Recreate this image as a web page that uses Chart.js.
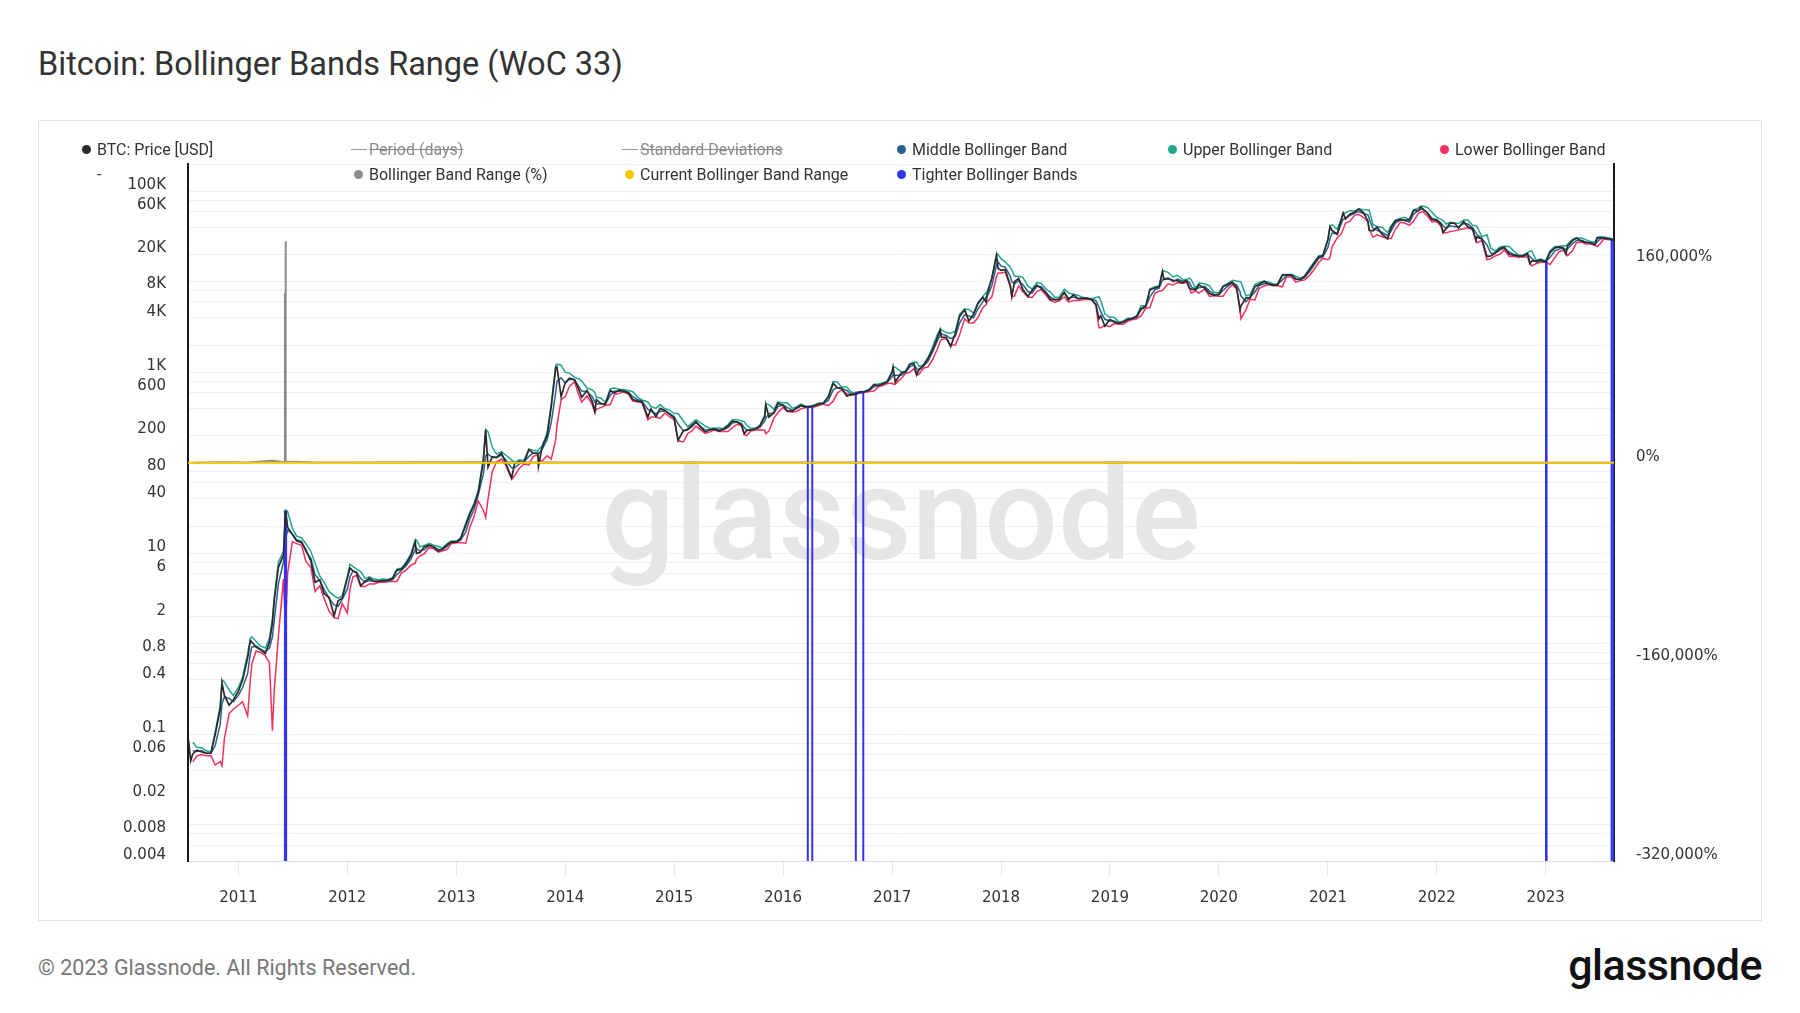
<!DOCTYPE html>
<html>
<head>
<meta charset="utf-8">
<title>Bitcoin: Bollinger Bands Range (WoC 33)</title>
<script src="https://cdn.jsdelivr.net/npm/chart.js@4.4.1/dist/chart.umd.min.js"></script>
<style>
  html, body { margin: 0; padding: 0; background: #fff; }
  body { position: relative; width: 1800px; height: 1013px; overflow: hidden; font-family: Roboto, 'Noto Sans', sans-serif; }
  #title { position: absolute; left: 38px; top: 48px; font-size: 32.5px; line-height: 33px; color: #333; white-space: nowrap; }
  #box { position: absolute; left: 38px; top: 120px; width: 1724px; height: 801px; border: 1px solid #e4e4e4; box-sizing: border-box; }
  #legend .item { position: absolute; height: 18px; display: flex; align-items: center; font-size: 16px; color: #333; white-space: nowrap; }
  #legend .sym { width: 16px; height: 18px; position: relative; margin-right: 2px; flex: none; }
  #legend .dot { position: absolute; left: 2.5px; top: 4.5px; width: 9px; height: 9px; border-radius: 50%; }
  #legend .dash { position: absolute; left: 0; top: 9px; width: 16px; height: 1px; background: #999; }
  #legend .off { color: #8a8a8a; text-decoration: line-through; }
  #footer { position: absolute; left: 38px; top: 957px; font-size: 21.5px; line-height: 22px; color: #777; white-space: nowrap; }
  #logo { position: absolute; right: 38px; top: 944px; font-size: 43px; line-height: 43px; font-weight: 500; color: #111; letter-spacing: -0.5px; }
</style>
</head>
<body>
<div id="title">Bitcoin: Bollinger Bands Range (WoC 33)</div>
<div id="box"><canvas id="chart"></canvas></div>
<div id="legend"></div>
<div id="footer">© 2023 Glassnode. All Rights Reserved.</div>
<div id="logo">glassnode</div>
<script>
// axis range and ticks
const xStart = '2010-07-16'
const xEnd = '2023-08-18'
const yearTicks = [2011, 2012, 2013, 2014, 2015, 2016, 2017, 2018, 2019, 2020, 2021, 2022, 2023]
const priceMin = 0.004
const priceMax = 200000
const priceGridTicks = [0.004, 0.006, 0.008, 0.01, 0.02, 0.04, 0.06, 0.08, 0.1, 0.2, 0.4, 0.6, 0.8,
  1, 2, 4, 6, 8, 10, 20, 40, 60, 80, 100, 200, 400, 600, 800, 1000, 2000, 4000, 6000, 8000,
  10000, 20000, 40000, 60000, 80000, 100000, 200000]
const priceTickLabels = [100000, 60000, 20000, 8000, 4000, 1000, 600, 200, 80, 40, 10, 6, 2,
  0.8, 0.4, 0.1, 0.06, 0.02, 0.008, 0.004]
const rangeMin = -320000
const rangeMax = 240000
const rangeTicks = [-320000, -160000, 0, 160000]

// BTC price and Bollinger bands (one line per year)
const dates = [
  '2010-07-18','2010-07-25','2010-08-01','2010-08-15','2010-09-01','2010-09-15','2010-10-01','2010-10-15','2010-11-01','2010-11-07','2010-11-15','2010-12-01','2010-12-15',
  '2011-01-01','2011-01-15','2011-02-01','2011-02-10','2011-02-15','2011-03-01','2011-03-15','2011-04-01','2011-04-15','2011-04-25','2011-05-01','2011-05-15','2011-06-01','2011-06-08','2011-06-15','2011-07-01','2011-07-15','2011-08-01','2011-08-15','2011-09-01','2011-09-15','2011-10-01','2011-10-15','2011-11-01','2011-11-18','2011-12-01','2011-12-15',
  '2012-01-01','2012-01-10','2012-01-20','2012-02-01','2012-02-15','2012-03-01','2012-03-15','2012-04-01','2012-04-15','2012-05-01','2012-05-15','2012-06-01','2012-06-15','2012-07-01','2012-07-15','2012-08-01','2012-08-16','2012-08-20','2012-09-01','2012-09-15','2012-10-01','2012-10-15','2012-11-01','2012-11-15','2012-12-01','2012-12-15',
  '2013-01-01','2013-01-15','2013-02-01','2013-02-15','2013-03-01','2013-03-15','2013-04-01','2013-04-09','2013-04-17','2013-05-01','2013-05-15','2013-06-01','2013-06-15','2013-07-05','2013-07-15','2013-08-01','2013-08-15','2013-09-01','2013-09-15','2013-10-01','2013-10-03','2013-10-15','2013-11-01','2013-11-15','2013-11-30','2013-12-04','2013-12-18',
  '2014-01-01','2014-01-15','2014-02-01','2014-02-15','2014-02-25','2014-03-15','2014-04-01','2014-04-10','2014-04-15','2014-05-01','2014-05-15','2014-06-01','2014-06-15','2014-07-01','2014-07-15','2014-08-01','2014-08-15','2014-09-01','2014-09-15','2014-10-05','2014-10-15','2014-11-01','2014-11-15','2014-12-01','2014-12-15',
  '2015-01-01','2015-01-14','2015-02-01','2015-02-15','2015-03-01','2015-03-15','2015-04-01','2015-04-15','2015-05-01','2015-05-15','2015-06-01','2015-06-15','2015-07-01','2015-07-15','2015-08-01','2015-08-15','2015-08-24','2015-09-01','2015-09-15','2015-10-01','2015-10-15','2015-11-01','2015-11-04','2015-11-15','2015-12-01','2015-12-15',
  '2016-01-01','2016-01-15','2016-02-01','2016-02-15','2016-03-01','2016-03-15','2016-04-01','2016-04-15','2016-05-01','2016-05-15','2016-06-01','2016-06-17','2016-07-01','2016-07-15','2016-08-02','2016-08-15','2016-09-01','2016-09-15','2016-10-01','2016-10-15','2016-11-01','2016-11-15','2016-12-01','2016-12-15',
  '2017-01-01','2017-01-04','2017-01-11','2017-02-01','2017-02-15','2017-03-01','2017-03-15','2017-03-24','2017-04-01','2017-04-15','2017-05-01','2017-05-15','2017-06-01','2017-06-11','2017-06-15','2017-07-01','2017-07-16','2017-08-01','2017-08-15','2017-09-01','2017-09-15','2017-10-01','2017-10-15','2017-11-01','2017-11-12','2017-11-15','2017-12-01','2017-12-17','2017-12-22',
  '2018-01-01','2018-01-15','2018-02-01','2018-02-06','2018-02-15','2018-03-01','2018-03-15','2018-04-01','2018-04-15','2018-05-01','2018-05-15','2018-06-01','2018-06-15','2018-07-01','2018-07-15','2018-08-01','2018-08-15','2018-09-01','2018-09-15','2018-10-01','2018-10-15','2018-11-01','2018-11-15','2018-11-25','2018-12-01','2018-12-15',
  '2019-01-01','2019-01-15','2019-02-01','2019-02-15','2019-03-01','2019-03-15','2019-04-01','2019-04-15','2019-05-01','2019-05-15','2019-06-01','2019-06-15','2019-06-26','2019-07-01','2019-07-15','2019-08-01','2019-08-15','2019-09-01','2019-09-15','2019-09-25','2019-10-01','2019-10-15','2019-10-26','2019-11-15','2019-12-01','2019-12-15',
  '2020-01-01','2020-01-15','2020-02-01','2020-02-15','2020-03-01','2020-03-12','2020-03-15','2020-04-01','2020-04-15','2020-05-01','2020-05-15','2020-06-01','2020-06-15','2020-07-01','2020-07-15','2020-08-01','2020-08-15','2020-09-01','2020-09-15','2020-10-01','2020-10-15','2020-11-01','2020-11-15','2020-12-01','2020-12-15',
  '2021-01-01','2021-01-08','2021-01-15','2021-02-01','2021-02-15','2021-02-21','2021-03-01','2021-03-15','2021-04-01','2021-04-14','2021-05-01','2021-05-15','2021-05-19','2021-06-01','2021-06-15','2021-07-01','2021-07-20','2021-08-01','2021-08-15','2021-09-01','2021-09-15','2021-10-01','2021-10-15','2021-11-01','2021-11-08','2021-11-15','2021-12-01','2021-12-15',
  '2022-01-01','2022-01-15','2022-01-22','2022-02-01','2022-02-15','2022-03-01','2022-03-15','2022-04-01','2022-04-15','2022-05-01','2022-05-12','2022-05-15','2022-06-01','2022-06-18','2022-07-01','2022-07-15','2022-08-01','2022-08-15','2022-09-01','2022-09-15','2022-10-01','2022-10-15','2022-11-01','2022-11-09','2022-11-15','2022-12-01','2022-12-15',
  '2023-01-01','2023-01-15','2023-02-01','2023-02-15','2023-03-01','2023-03-10','2023-03-15','2023-04-01','2023-04-14','2023-05-01','2023-05-15','2023-06-01','2023-06-15','2023-06-23','2023-07-01','2023-07-15','2023-08-01','2023-08-15','2023-08-17'
]
const price = [
  0.086,0.051,0.061,0.067,0.064,0.062,0.062,0.10,0.19,0.37,0.27,0.21,0.24,
  0.30,0.40,0.70,1.09,1.05,0.92,0.87,0.78,1.05,1.7,3.0,7.0,9.6,29.6,19.5,16.1,13.8,13.1,11.0,8.2,4.8,5.1,3.6,3.25,2.05,3.0,3.2,
  5.3,6.9,6.4,6.1,4.4,4.9,5.3,4.9,4.9,5.0,5.0,5.3,6.5,6.7,7.6,9.4,13.3,10.0,10.2,11.8,12.4,11.8,10.6,11.2,12.5,13.4,
  13.3,14.5,20.4,27.1,34.3,47,104,230,90,116,115,128,100,68,98,104,100,140,128,127,92,149,200,420,1130,1150,540,
  770,860,830,650,530,630,480,370,500,450,445,630,590,640,620,590,500,480,475,320,395,325,400,380,347,
  315,178,226,235,260,285,245,220,232,237,225,236,257,288,282,262,210,228,230,238,254,325,440,320,360,455,
  433,375,372,405,433,415,417,430,450,455,535,755,675,665,545,570,573,607,614,638,730,712,750,780,
  1000,1135,780,990,1010,1220,1250,940,1080,1180,1420,1720,2400,2950,2450,2430,1930,2730,4150,4900,3700,4400,5700,6750,5950,7300,10900,19500,14000,
  13400,13600,9100,6900,10000,10900,8200,6900,8000,9200,8500,7500,6400,6350,6350,7600,6300,7200,6500,6600,6600,6350,5600,3900,4200,3250,
  3850,3600,3480,3600,3820,3930,4150,5050,5350,8200,8550,8850,12900,10600,10850,10400,10300,9750,10300,8450,8300,8150,9250,8500,7400,7100,
  7200,8800,9400,9900,8550,4900,5400,6650,6650,8850,9350,10200,9450,9200,9200,11800,11900,11900,10800,10600,11500,13800,16000,18800,19400,
  29400,40700,36800,33500,48700,57500,49600,55800,59000,63500,57800,46700,37000,36600,40200,33500,29800,39900,47000,48800,48100,48200,61500,61300,67500,63600,57200,48900,
  47700,43100,35000,38700,44500,44400,39300,46300,40500,38500,28900,31300,29800,19000,19300,20800,23300,24100,20100,19700,19300,19100,20500,15900,16900,17000,17400,
  16600,20900,23700,24300,23600,20200,24700,28500,30500,28100,27200,26800,25600,30600,30600,30300,29700,29200,28700
]
const middle = [
  null,null,0.066,0.065,0.066,0.062,0.062,0.075,0.13,0.22,0.26,0.25,0.23,
  0.27,0.33,0.47,0.78,0.92,0.95,0.88,0.82,0.90,1.2,1.8,4.6,8.0,14.5,18,16.5,14.2,13.6,10.5,8.8,5.8,5.0,4.0,3.2,2.7,2.6,3.1,
  4.0,5.5,6.4,6.2,5.3,4.8,5.0,4.9,4.95,5.0,5.0,5.1,5.8,6.5,7.2,8.6,11.0,11.3,10.6,11.0,12.2,11.9,11.1,11.0,12.0,13.3,
  13.4,14.0,17.2,24.0,30.5,44,75,120,125,115,114,122,108,88,88,98,102,118,128,128,125,140,180,280,600,800,870,
  760,840,830,700,620,610,540,470,450,450,445,560,620,615,625,600,540,500,480,390,370,350,370,375,355,
  325,270,225,230,250,280,250,232,230,236,230,232,245,275,283,272,245,230,232,236,246,290,310,350,350,420,
  435,410,380,395,425,415,416,425,445,453,490,640,680,665,630,580,577,605,608,630,690,715,740,775,
  900,940,930,930,1000,1150,1200,1100,1060,1170,1320,1650,2200,2600,2650,2550,2350,2500,3500,4300,4200,4000,5000,6000,6800,6900,9000,15500,16500,
  15000,14500,11500,10000,9500,10300,9300,7800,7500,8900,8800,7600,6800,6300,6500,7600,6600,6800,6550,6550,6550,6400,6200,5300,4700,3850,
  3700,3700,3520,3580,3800,3880,4050,4900,5300,6800,8200,8500,10500,10800,11000,10000,10700,10200,10300,9800,8800,8250,8600,8900,7900,7300,
  7250,8000,9000,9800,9200,7800,7000,6000,6800,7700,9100,9500,9600,9300,9250,10500,11700,11700,10600,10600,11200,13000,15200,18000,18900,
  24000,30000,34500,34000,44000,49000,50500,54000,57500,59500,56500,55000,50000,38500,37000,35000,32500,36500,44500,48000,47500,45500,56000,61500,63000,64000,58000,50500,
  48500,44500,41500,39000,41500,40500,40500,44000,43500,39500,35000,33500,30000,25500,20800,20500,22500,23600,21200,20200,19300,19300,20000,19000,18200,16500,17100,
  16750,18500,22000,23000,23500,22800,23000,26500,28500,28800,27500,27000,26400,27500,29500,30400,29800,29300,29200
]
const upper = [
  null,null,0.082,0.072,0.071,0.066,0.064,0.105,0.21,0.40,0.38,0.31,0.27,
  0.33,0.43,0.78,1.15,1.2,1.07,0.95,0.90,1.15,1.9,3.2,8.0,10.5,30,29,19,15.5,14.8,12.8,10.5,7.8,5.6,4.8,3.8,3.4,3.2,3.4,
  5.5,7.6,7.2,6.7,6.3,5.3,5.5,5.2,5.1,5.2,5.15,5.4,6.7,6.9,7.9,9.8,14.2,14.0,11.8,12.2,12.9,12.4,12.0,11.4,12.8,13.7,
  13.7,14.8,21.5,28.5,35.5,49,110,235,220,150,125,133,122,108,102,108,106,142,138,134,140,152,215,450,1200,1230,1200,
  1000,980,880,850,800,670,640,600,530,520,460,660,670,650,645,630,610,530,495,470,420,400,440,395,385,
  350,350,290,250,275,300,275,255,240,243,242,240,265,300,300,290,285,260,240,242,260,340,450,440,390,470,
  460,460,400,415,445,425,421,435,458,460,550,790,780,690,690,610,585,612,618,645,740,745,760,800,
  1040,1150,1140,1010,1030,1250,1290,1300,1160,1210,1450,1850,2600,3000,2950,2750,2700,2850,4400,5000,4950,4500,5900,6900,7600,7600,11000,20500,20000,
  18000,16500,14500,13500,11500,11500,11200,9000,8300,9800,9600,8300,7700,6700,6800,8300,7500,7300,7100,6750,6650,6500,6700,6800,6300,4400,
  4050,4050,3600,3700,3950,3950,4200,5450,5450,8300,8800,9000,13000,13200,12700,11300,11800,10700,10600,11000,10500,8500,9700,9500,9000,7700,
  7500,9000,9600,10400,10200,10000,10000,7000,7200,9300,9900,10000,9950,9500,9350,12000,12000,12000,11500,10900,11600,14100,16400,19400,19600,
  29800,41500,42500,38000,50000,58000,58000,61000,60500,64000,62500,62000,62000,43000,40500,40000,35000,42000,48000,50500,51500,48500,62500,65500,67500,68500,66000,59000,
  51500,49000,47500,43500,45500,44500,44000,48000,48000,42000,41500,41000,31500,33000,23500,21800,24300,24700,24500,22000,19900,19700,21000,21800,22000,17200,17800,
  16950,22000,24500,24500,25000,24800,26000,29500,30500,30500,29200,27800,27500,31000,31500,31200,30500,29600,29700
]
const lower = [
  null,null,0.050,0.058,0.060,0.058,0.058,0.046,0.05,0.045,0.09,0.17,0.19,
  0.21,0.23,0.16,0.40,0.60,0.83,0.81,0.74,0.62,0.11,0.30,1.2,5.2,1.5,6.0,13.5,12.8,12.3,8.2,7.0,3.8,4.4,3.2,2.3,1.95,1.9,2.8,
  2.2,4.0,5.5,5.7,4.3,4.3,4.6,4.6,4.8,4.8,4.85,4.9,4.9,6.1,6.5,7.4,7.8,8.6,9.4,9.9,11.5,11.4,10.3,10.6,11.1,12.8,
  13.1,13.2,12.9,19.5,25.5,38,30,25,40,80,102,110,95,66,72,88,97,95,118,122,108,105,120,110,180,260,500,
  540,700,790,560,470,550,440,360,390,410,430,440,570,585,605,575,480,470,465,300,320,320,310,355,325,
  300,175,170,210,225,255,230,212,220,230,222,222,222,245,268,255,205,200,225,230,232,230,210,225,310,360,
  410,370,365,370,395,405,411,415,430,445,430,480,590,640,580,555,568,598,600,615,620,690,715,750,
  760,740,740,860,975,1000,1100,930,950,1110,1150,1350,1800,2200,2300,2350,2000,2000,2600,3900,3500,3500,4000,5200,5600,6000,6800,11500,12500,
  12500,12800,8800,6800,7000,9000,7800,6800,6700,7800,8200,7100,6200,5950,6150,6800,6000,6200,6200,6350,6420,6320,5500,3100,3100,3300,
  3200,3450,3400,3400,3650,3800,3900,4200,5100,5200,7500,7900,8000,8400,9500,9200,9800,9600,9900,8400,7500,7950,7500,8300,6900,7000,
  6900,6900,8300,9300,8300,5200,3900,4900,6400,6300,8400,9000,9300,9050,9100,8800,11300,11300,9900,10300,10500,11800,13600,16300,18100,
  17500,18500,24500,30500,34000,38000,44500,46500,54500,55500,51000,46000,38000,31000,33000,31500,30000,30000,38000,45500,44500,42000,46500,57500,58500,59500,53000,46000,
  46000,41000,35000,34500,36000,36500,37500,38500,39500,37500,28500,27000,28500,17500,18000,19300,20200,22500,19000,19000,18700,18900,18800,16000,15000,15900,16400,
  16550,15500,18500,21500,22300,20500,19500,22000,27000,27500,26200,26200,25300,24500,26000,29700,29200,29000,27500
]

// Bollinger Band Range (%), right axis
const rangeDates = ['2010-08-01','2010-11-07','2011-02-01','2011-04-25','2011-06-05','2011-06-06','2011-06-07','2011-06-08','2011-06-09',
  '2011-09-15','2012-01-01','2013-04-09','2013-12-04','2015-01-14','2017-12-17','2020-03-15','2021-05-19','2023-08-17']
const rangeValues = [40, 300, 200, 1600, 300, 136000, 30000, 178000, 900,
  105, 150, 420, 250, 100, 78, 156, 63, 8]
const currentRange = 8

// periods flagged as tighter bands (value = price during the period)
const tighterStart = ['2011-06-06', '2016-03-24', '2016-09-01', '2023-01-02', '2023-08-10']
const tighterEnd = ['2011-06-10', '2016-04-08', '2016-09-26', '2023-01-04', '2023-08-17']
const tighterValues = [29, 415, 600, 16700, 29000]

const colors = {
  price: '#2b2b2b',
  middle: '#2c5f8f',
  upper: '#22a58b',
  lower: '#f2305e',
  range: '#8c8c8c',
  current: '#f6c700',
  tighter: '#3434f0'
}

const X = d => Date.parse(d + 'T00:00:00Z')
const pts = (xs, ys) => xs.map((d, i) => ({ x: X(d), y: ys[i] }))

const tighterPts = []
tighterStart.forEach((s, i) => {
  const e = tighterEnd[i]
  tighterPts.push(
    { x: X(s), y: priceMin }, { x: X(s), y: tighterValues[i] },
    { x: X(e), y: tighterValues[i] }, { x: X(e), y: priceMin }, { x: X(e), y: null })
})

const fmtPrice = v => v >= 1000 ? (v / 1000) + 'K' : String(v)

const line = (label, data, color, width, axis) => ({
  label, data, borderColor: color, backgroundColor: color,
  borderWidth: width, pointRadius: 0, tension: 0, fill: false, yAxisID: axis
})

// light watermark behind the lines
const watermark = {
  id: 'watermark',
  beforeDatasetsDraw (chart) {
    const { ctx, chartArea } = chart
    ctx.save()
    ctx.font = '500 130px Roboto'
    ctx.fillStyle = '#e6e6e6'
    ctx.textAlign = 'center'
    ctx.textBaseline = 'alphabetic'
    ctx.fillText('glassnode', (chartArea.left + chartArea.right) / 2,
      chartArea.top + chartArea.height * 0.567)
    ctx.restore()
  }
}

const chart = new Chart(document.getElementById('chart'), {
  type: 'line',
  data: {
    datasets: [
      line('Current Bollinger Band Range', [{ x: X(xStart), y: currentRange }, { x: X(xEnd), y: currentRange }], colors.current, 2, 'y2'),
      line('BTC: Price [USD]', pts(dates, price), colors.price, 1.7, 'y'),
      line('Tighter Bollinger Bands', tighterPts, colors.tighter, 2, 'y'),
      line('Middle Bollinger Band', pts(dates, middle), colors.middle, 1.5, 'y'),
      line('Upper Bollinger Band', pts(dates, upper), colors.upper, 1.5, 'y'),
      line('Lower Bollinger Band', pts(dates, lower), colors.lower, 1.5, 'y'),
      line('Bollinger Band Range (%)', pts(rangeDates, rangeValues), colors.range, 2, 'y2')
    ]
  },
  options: {
    responsive: true,
    maintainAspectRatio: false,
    animation: false,
    layout: { padding: { top: 43, left: 0, right: 0, bottom: 0 } },
    plugins: {
      legend: { display: false },
      tooltip: { enabled: false }
    },
    scales: {
      x: {
        type: 'linear',
        min: X(xStart),
        max: X(xEnd),
        afterBuildTicks: s => { s.ticks = yearTicks.map(y => ({ value: Date.UTC(y, 0, 1) })) },
        afterFit: s => { s.height = 59 },
        grid: { drawOnChartArea: false, drawTicks: true, tickLength: 15, color: '#e8e8e8' },
        border: { color: '#dddddd', width: 1 },
        ticks: {
          autoSkip: false, maxRotation: 0, padding: 13,
          color: '#333', font: { family: 'DejaVu Sans', size: 15 },
          callback: v => new Date(v).getUTCFullYear()
        }
      },
      y: {
        type: 'logarithmic',
        position: 'left',
        min: priceMin,
        max: priceMax,
        bounds: 'data',
        afterBuildTicks: s => { s.ticks = priceGridTicks.map(v => ({ value: v })) },
        afterFit: s => { s.width = 149 },
        grid: { color: '#efefef', drawTicks: false },
        border: { color: '#1a1a1a', width: 2 },
        ticks: {
          autoSkip: false, padding: 22, labelOffset: -6,
          color: '#333', font: { family: 'DejaVu Sans', size: 15 },
          callback: v => priceTickLabels.includes(v) ? fmtPrice(v) : ''
        }
      },
      y2: {
        type: 'linear',
        position: 'right',
        min: rangeMin,
        max: rangeMax,
        bounds: 'data',
        afterBuildTicks: s => { s.ticks = rangeTicks.map(v => ({ value: v })) },
        afterFit: s => { s.width = 147 },
        grid: { display: false, drawTicks: false },
        border: { color: '#1a1a1a', width: 2 },
        ticks: {
          autoSkip: false, padding: 22, labelOffset: -6,
          color: '#333', font: { family: 'DejaVu Sans', size: 15 },
          callback: v => v.toLocaleString('en-US') + '%'
        }
      }
    }
  },
  plugins: [watermark]
})

// legend laid out in a fixed grid like the original
const legendCols = [86, 358, 629, 901, 1172, 1444]
const legendRows = [149, 174.5]
const legendItems = [
  { text: 'BTC: Price [USD]', color: colors.price, col: 0, row: 0 },
  { text: 'Period (days)', off: true, col: 1, row: 0 },
  { text: 'Standard Deviations', off: true, col: 2, row: 0 },
  { text: 'Middle Bollinger Band', color: colors.middle, col: 3, row: 0 },
  { text: 'Upper Bollinger Band', color: colors.upper, col: 4, row: 0 },
  { text: 'Lower Bollinger Band', color: colors.lower, col: 5, row: 0 },
  { text: '-', none: true, col: 0, row: 1 },
  { text: 'Bollinger Band Range (%)', color: colors.range, col: 1, row: 1 },
  { text: 'Current Bollinger Band Range', color: colors.current, col: 2, row: 1 },
  { text: 'Tighter Bollinger Bands', color: colors.tighter, col: 3, row: 1 }
]
const legendEl = document.getElementById('legend')
legendItems.forEach(it => {
  const div = document.createElement('div')
  div.className = 'item'
  div.style.left = (legendCols[it.col] - 7) + 'px'
  div.style.top = (legendRows[it.row] - 9) + 'px'
  const sym = document.createElement('span')
  sym.className = 'sym'
  if (it.off) {
    sym.innerHTML = '<span class="dash"></span>'
  } else if (!it.none) {
    sym.innerHTML = '<span class="dot" style="background:' + it.color + '"></span>'
  }
  const txt = document.createElement('span')
  txt.textContent = it.text
  if (it.off) { txt.className = 'off' }
  div.appendChild(sym)
  div.appendChild(txt)
  legendEl.appendChild(div)
})
</script>
</body>
</html>
